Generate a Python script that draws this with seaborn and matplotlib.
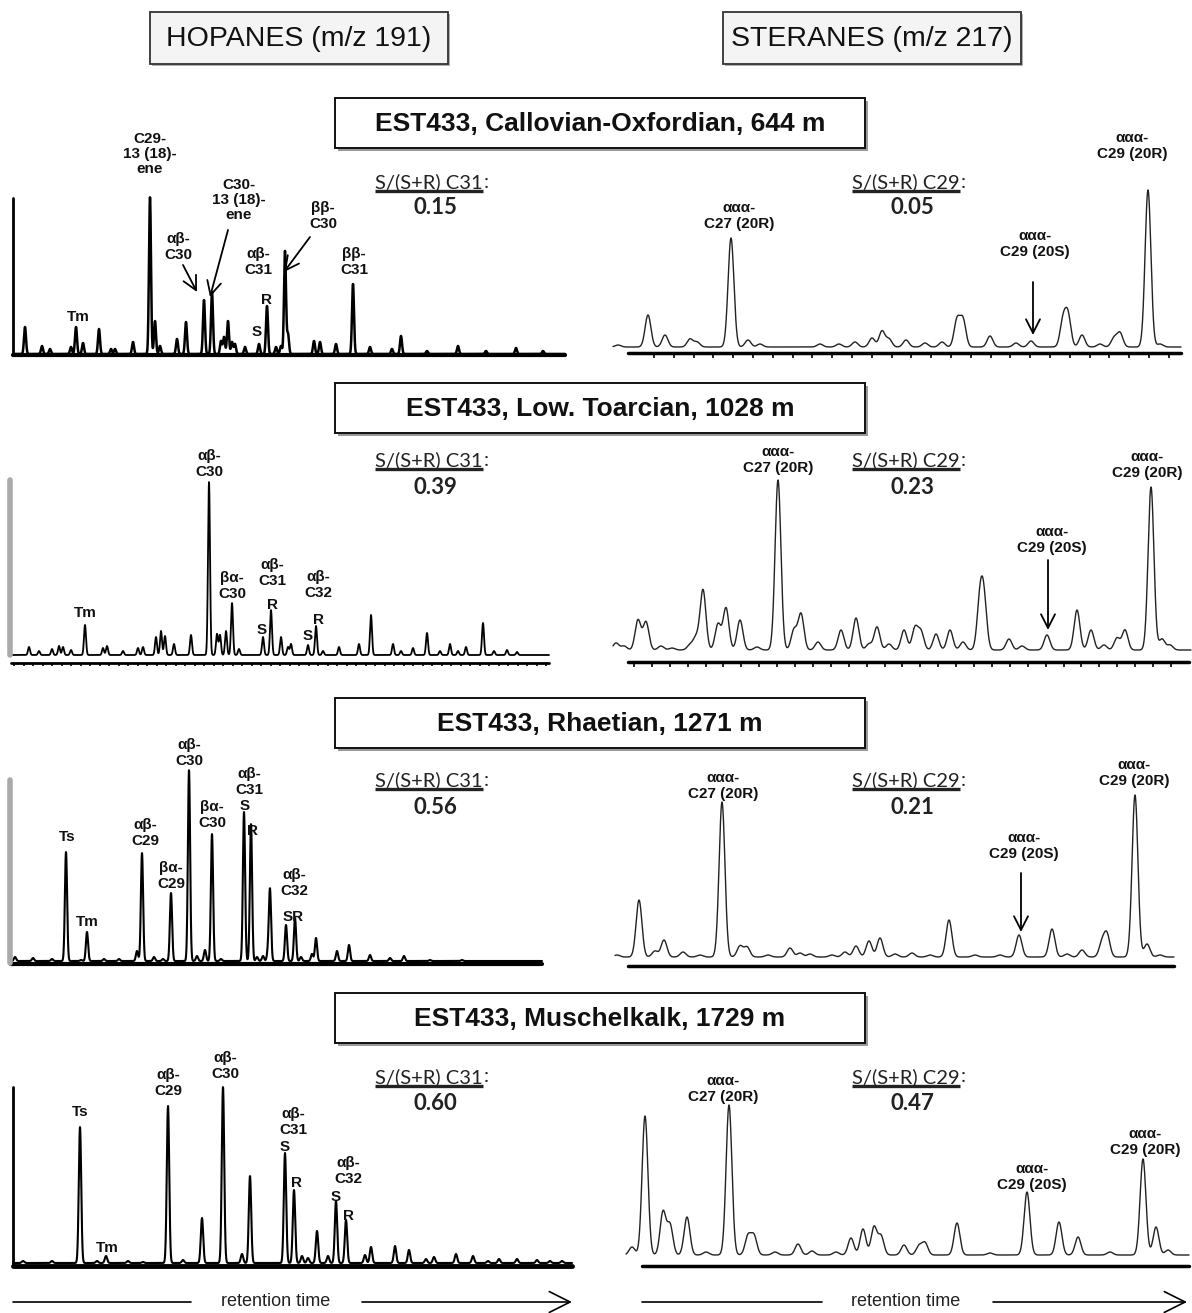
import numpy as np
import pandas as pd
import matplotlib
matplotlib.use("Agg")
import matplotlib.pyplot as plt
import seaborn as sns
from matplotlib.patches import Rectangle

# --- hopanes (m/z 191): retention position / abundance of each peak ---
hop_644_rt = [25, 42, 50, 71, 76, 83, 99, 111, 115, 133, 150, 155, 160, 177, 186, 204, 212, 221, 224, 228,
              232, 235, 245, 259, 267, 276, 281, 285, 288, 314, 320, 336, 353, 370, 392, 401, 427, 458, 486, 516, 543]
hop_644_ab = [27, 8, 5, 7, 27, 11, 25, 5, 5, 12, 157, 33, 8, 15, 32, 54, 62, 13, 17, 33,
              12, 10, 7, 10, 48, 7, 8, 103, 20, 13, 12, 10, 70, 7, 5, 18, 3, 8, 3, 6, 3]

hop_1028_rt = [29, 39, 52, 59, 63, 71, 85, 103, 107, 123, 138, 143, 156, 161, 165, 174, 191, 209, 217, 220,
               226, 232, 239, 263, 271, 281, 288, 291, 308, 316, 323, 339, 359, 371, 393, 401, 413, 427, 440, 450,
               458, 466, 483, 494, 507, 517]
hop_1028_ab = [8, 4, 6, 9, 8, 5, 30, 7, 9, 4, 7, 8, 18, 24, 19, 11, 20, 173, 21, 20,
               24, 52, 6, 18, 45, 18, 8, 11, 10, 29, 4, 8, 11, 40, 11, 4, 7, 22, 4, 11,
               4, 8, 32, 4, 5, 3]

hop_1271_rt = [15, 33, 52, 66, 81, 87, 104, 119, 137, 142, 154, 163, 171, 189, 197, 205, 212, 221, 244, 251,
               257, 263, 268, 270, 286, 295, 301, 312, 316, 337, 349, 370, 390, 404, 430, 462]
hop_1271_ab = [4, 3, 2, 109, 1, 29, 2, 2, 10, 108, 4, 2, 68, 191, 5, 11, 127, 2, 149, 137,
               4, 5, 9, 71, 36, 43, 4, 7, 23, 10, 16, 6, 3, 5, 1, 1]

hop_1729_rt = [23, 52, 80, 97, 106, 128, 143, 168, 183, 202, 223, 242, 250, 285, 294, 302, 308, 317, 328, 336,
               346, 365, 371, 395, 409, 426, 434, 456, 473, 488, 499, 517, 537, 550, 562]
hop_1729_ab = [2, 2, 136, 2, 7, 2, 1, 157, 3, 45, 176, 9, 87, 110, 73, 7, 5, 32, 7, 62,
               43, 8, 16, 17, 13, 4, 6, 9, 7, 2, 4, 4, 3, 2, 2]

# --- steranes (m/z 217) ---
ster_644_rt = [618, 648, 665, 690, 697, 731, 748, 760, 820, 839, 855, 872, 882, 889, 906, 925, 942, 957, 963, 990,
               1016, 1031, 1063, 1068, 1082, 1100, 1114, 1120, 1148, 1160]
ster_644_ab = [2, 32, 12, 8, 5, 109, 7, 3, 3, 3, 5, 9, 16, 8, 7, 4, 5, 27, 27, 11,
               4, 6, 26, 31, 12, 3, 9, 14, 157, 3]

ster_1028_rt = [616, 624, 638, 646, 661, 672, 690, 696, 703, 718, 726, 740, 757, 778, 794, 801, 818, 841, 856, 869,
                877, 889, 904, 915, 921, 936, 950, 963, 980, 984, 1009, 1022, 1047, 1077, 1091, 1104, 1117, 1125, 1151, 1162,
                1170]
ster_1028_ab = [7, 4, 30, 28, 4, 2, 5, 12, 60, 26, 42, 30, 3, 170, 20, 36, 8, 20, 32, 6,
                23, 6, 20, 22, 18, 16, 20, 8, 48, 46, 11, 4, 15, 40, 20, 5, 12, 20, 163, 11,
                5]

ster_1271_rt = [617, 639, 655, 664, 683, 700, 722, 740, 747, 768, 790, 800, 810, 832, 845, 856, 869, 880, 895, 912,
                930, 949, 975, 1000, 1019, 1052, 1067, 1082, 1102, 1107, 1135, 1147, 1160]
ster_1271_ab = [2, 57, 6, 17, 5, 2, 155, 11, 10, 2, 9, 4, 3, 2, 5, 11, 16, 19, 3, 4,
                2, 37, 2, 2, 22, 28, 3, 7, 14, 22, 162, 13, 2]

ster_1729_rt = [632, 645, 663, 670, 687, 706, 729, 748, 754, 775, 798, 812, 836, 851, 863, 874, 881, 904, 919, 925,
                957, 990, 1027, 1059, 1078, 1110, 1143, 1156, 1168]
ster_1729_ab = [8, 139, 43, 30, 38, 3, 150, 19, 19, 3, 11, 4, 3, 17, 26, 28, 19, 10, 9, 12,
                32, 2, 63, 33, 18, 3, 96, 28, 5]

samples = ["EST433, Callovian-Oxfordian, 644 m", "EST433, Low. Toarcian, 1028 m",
           "EST433, Rhaetian, 1271 m", "EST433, Muschelkalk, 1729 m"]
ratio_c31 = ["0.15", "0.39", "0.56", "0.60"]
ratio_c29 = ["0.05", "0.23", "0.21", "0.47"]

W, H = 1192, 1313
sns.set_theme(style="white")
plt.rcParams['font.family'] = ['Liberation Sans', 'DejaVu Sans']

fig = plt.figure(figsize=(W / 100, H / 100), dpi=100)
canvas = fig.add_axes([0, 0, 1, 1], zorder=5)
canvas.set_xlim(0, W)
canvas.set_ylim(H, 0)
canvas.axis('off')
canvas.patch.set_alpha(0)
renderer = fig.canvas.get_renderer()


def peaks_to_trace(rt, ab, x0, x1, sig, lift):
    x = np.linspace(x0, x1, 4000)
    y = np.full_like(x, float(lift))
    for r, a in zip(rt, ab):
        y += a * np.exp(-0.5 * ((x - r) / sig) ** 2)
    return pd.DataFrame({"rt": x, "abund": y})


def chromatogram(rt, ab, x0, x1, axis_y, lift, sig, lw, color="black"):
    ax = fig.add_axes([(x0 - 5) / W, 1 - axis_y / H, (x1 - x0 + 10) / W, 230 / H])
    df = peaks_to_trace(rt, ab, x0, x1, sig, lift)
    sns.lineplot(data=df, x="rt", y="abund", ax=ax, color=color, linewidth=lw, estimator=None)
    ax.set_xlim(x0 - 5, x1 + 5)
    ax.set_ylim(0, 230)
    ax.axis('off')
    return ax


def label(x, y, s, size=11):
    canvas.text(x, y, s, ha='center', va='center', fontsize=size, fontweight='bold',
                linespacing=1.1, color='#111111')


def arrow(x0, y0, x1, y1):
    canvas.annotate('', xy=(x1, y1), xytext=(x0, y0),
                    arrowprops=dict(arrowstyle='->,head_length=0.55,head_width=0.28',
                                    lw=1.3, color='black', mutation_scale=18, shrinkA=0, shrinkB=0))


def ratio(cx, y1, comp, y2, val):
    t = canvas.text(cx, y1, f"S/(S+R) {comp}", ha='center', va='center', fontsize=14.5,
                    family='Lato', color='#222222')
    bb = t.get_window_extent(renderer).transformed(canvas.transData.inverted())
    bottom = max(bb.y0, bb.y1)
    canvas.plot([bb.x0, bb.x1], [bottom, bottom], color='#222222', lw=2.4, solid_capstyle='butt')
    canvas.text(bb.x1 + 1, y1, ":", ha='left', va='center', fontsize=14.5, family='Lato', color='#222222')
    canvas.text(cx + 6, y2, val, ha='center', va='center', fontsize=16, fontweight='bold',
                family='Lato', color='#222222')


def title_box(y0, text):
    canvas.add_patch(Rectangle((338, y0 + 3), 530, 50, facecolor='#9a9a9a', edgecolor='none', zorder=1))
    canvas.add_patch(Rectangle((335, y0), 530, 50, facecolor='white', edgecolor='#111111', lw=1.4, zorder=2))
    canvas.text(600, y0 + 26, text, ha='center', va='center', fontsize=19, fontweight='bold',
                color='#111111', zorder=3)


def ticks(ax, x0, x1, step, length):
    ax.vlines(np.arange(x0, x1, step), -length, 0, color='black', lw=1.2, clip_on=False)


# header boxes
for bx, txt in [(150, "HOPANES (m/z 191)"), (723, "STERANES (m/z 217)")]:
    canvas.add_patch(Rectangle((bx + 2, 14), 298, 52, facecolor='#b0b0b0', edgecolor='none', zorder=1))
    canvas.add_patch(Rectangle((bx, 12), 298, 52, facecolor='#f4f4f4', edgecolor='#333333', lw=1.3, zorder=2))
    canvas.text(bx + 149, 39, txt, ha='center', va='center', fontsize=20.5,
                family=['Liberation Sans Narrow', 'Liberation Sans'], color='#111111', zorder=3)

# ---------------- panel 1: 644 m ----------------
title_box(98, samples[0])
ax = chromatogram(hop_644_rt, hop_644_ab, 13, 565, 355, 1, 1.0, 1.8)
ax.plot([13, 565], [0, 0], color='black', lw=3, clip_on=False)
ax.plot([13, 13], [0, 157], color='black', lw=2, clip_on=False)
label(150, 154, "C29-\n13 (18)-\nene")
label(239, 200, "C30-\n13 (18)-\nene")
label(178, 247, "αβ-\nC30")
label(258, 262, "αβ-\nC31")
label(267, 300, "R")
label(257, 332, "S")
label(323, 216, "ββ-\nC30")
label(354, 262, "ββ-\nC31")
label(78, 317, "Tm")
arrow(183, 265, 197, 292)
arrow(228, 230, 210, 297)
arrow(310, 237, 284, 272)
ratio(429, 182, "C31", 207, ratio_c31[0])

ax = chromatogram(ster_644_rt, ster_644_ab, 613, 1181, 353, 6, 2.9, 1.0, '#222222')
ax.plot([628, 1181], [0, 0], color='black', lw=2.5, clip_on=False)
ticks(ax, 654, 1175, 19.8, 5)
label(739, 216, "ααα-\nC27 (20R)")
label(1035, 244, "ααα-\nC29 (20S)")
label(1132, 146, "ααα-\nC29 (20R)")
arrow(1033, 282, 1033, 335)
ratio(906, 182, "C29", 207, ratio_c29[0])

# ---------------- panel 2: 1028 m ----------------
title_box(383, samples[1])
ax = chromatogram(hop_1028_rt, hop_1028_ab, 11, 549, 663, 8, 1.0, 1.3)
ax.plot([11, 549], [0, 0], color='black', lw=2, clip_on=False)
ticks(ax, 14, 549, 9.5, 3)
ax.plot([10, 10], [8, 183], color='#aaaaaa', lw=4, clip_on=False)
label(85, 613, "Tm")
label(209, 464, "αβ-\nC30")
label(232, 586, "βα-\nC30")
label(272, 573, "αβ-\nC31")
label(272, 605, "R")
label(262, 630, "S")
label(318, 585, "αβ-\nC32")
label(318, 620, "R")
label(308, 636, "S")
ratio(429, 460, "C31", 487, ratio_c31[1])

ax = chromatogram(ster_1028_rt, ster_1028_ab, 613, 1191, 662, 12, 2.9, 1.0, '#222222')
ax.plot([628, 1189], [0, 0], color='black', lw=2.5, clip_on=False)
ticks(ax, 634, 1185, 17.9, 5)
label(778, 460, "ααα-\nC27 (20R)")
label(1052, 540, "ααα-\nC29 (20S)")
label(1147, 465, "ααα-\nC29 (20R)")
arrow(1048, 560, 1048, 630)
ratio(906, 460, "C29", 487, ratio_c29[1])

# ---------------- panel 3: 1271 m ----------------
title_box(698, samples[2])
ax = chromatogram(hop_1271_rt, hop_1271_ab, 11, 542, 964, 3, 1.1, 1.5)
ax.plot([11, 542], [0, 0], color='black', lw=3, clip_on=False)
ax.plot([10, 10], [1, 184], color='#aaaaaa', lw=4, clip_on=False)
label(67, 837, "Ts")
label(87, 922, "Tm")
label(145, 833, "αβ-\nC29")
label(171, 876, "βα-\nC29")
label(189, 753, "αβ-\nC30")
label(212, 815, "βα-\nC30")
label(249, 782, "αβ-\nC31")
label(245, 806, "S")
label(253, 831, "R")
label(294, 883, "αβ-\nC32")
label(293, 917, "SR")
ratio(429, 780, "C31", 808, ratio_c31[2])

ax = chromatogram(ster_1271_rt, ster_1271_ab, 615, 1174, 966, 9, 2.9, 1.0, '#222222')
ax.plot([628, 1174], [0, 0], color='black', lw=2.5, clip_on=False)
label(723, 786, "ααα-\nC27 (20R)")
label(1024, 846, "ααα-\nC29 (20S)")
label(1134, 773, "ααα-\nC29 (20R)")
arrow(1021, 873, 1021, 932)
ratio(906, 780, "C29", 808, ratio_c29[2])

# ---------------- panel 4: 1729 m ----------------
title_box(993, samples[3])
ax = chromatogram(hop_1729_rt, hop_1729_ab, 13, 572, 1266, 3, 1.2, 1.5)
ax.plot([13, 572], [0, 0], color='black', lw=3.5, clip_on=False)
ax.plot([13, 13], [0, 179], color='black', lw=2, clip_on=False)
label(80, 1112, "Ts")
label(107, 1248, "Tm")
label(168, 1083, "αβ-\nC29")
label(225, 1066, "αβ-\nC30")
label(293, 1122, "αβ-\nC31")
label(285, 1147, "S")
label(297, 1183, "R")
label(348, 1171, "αβ-\nC32")
label(336, 1197, "S")
label(348, 1216, "R")
ratio(429, 1077, "C31", 1103, ratio_c31[3])

ax = chromatogram(ster_1729_rt, ster_1729_ab, 626, 1189, 1266, 11, 2.9, 1.0, '#222222')
ax.plot([642, 1189], [0, 0], color='black', lw=2.5, clip_on=False)
label(723, 1089, "ααα-\nC27 (20R)")
label(1032, 1177, "ααα-\nC29 (20S)")
label(1145, 1142, "ααα-\nC29 (20R)")
ratio(906, 1077, "C29", 1103, ratio_c29[3])

# retention time arrows
for lx0, lx1, tx, ax0, ax1 in [(13, 191, 276, 362, 572), (642, 822, 906, 993, 1187)]:
    canvas.plot([lx0, lx1], [1302, 1302], color='black', lw=1.2)
    canvas.text(tx, 1301, "retention time", ha='center', va='center', fontsize=13, color='#222222')
    canvas.annotate('', xy=(ax1, 1302), xytext=(ax0, 1302),
                    arrowprops=dict(arrowstyle='->,head_length=0.6,head_width=0.3', lw=1.2,
                                    color='black', mutation_scale=25, shrinkA=0, shrinkB=0))

fig.savefig("out.png", dpi=100)
